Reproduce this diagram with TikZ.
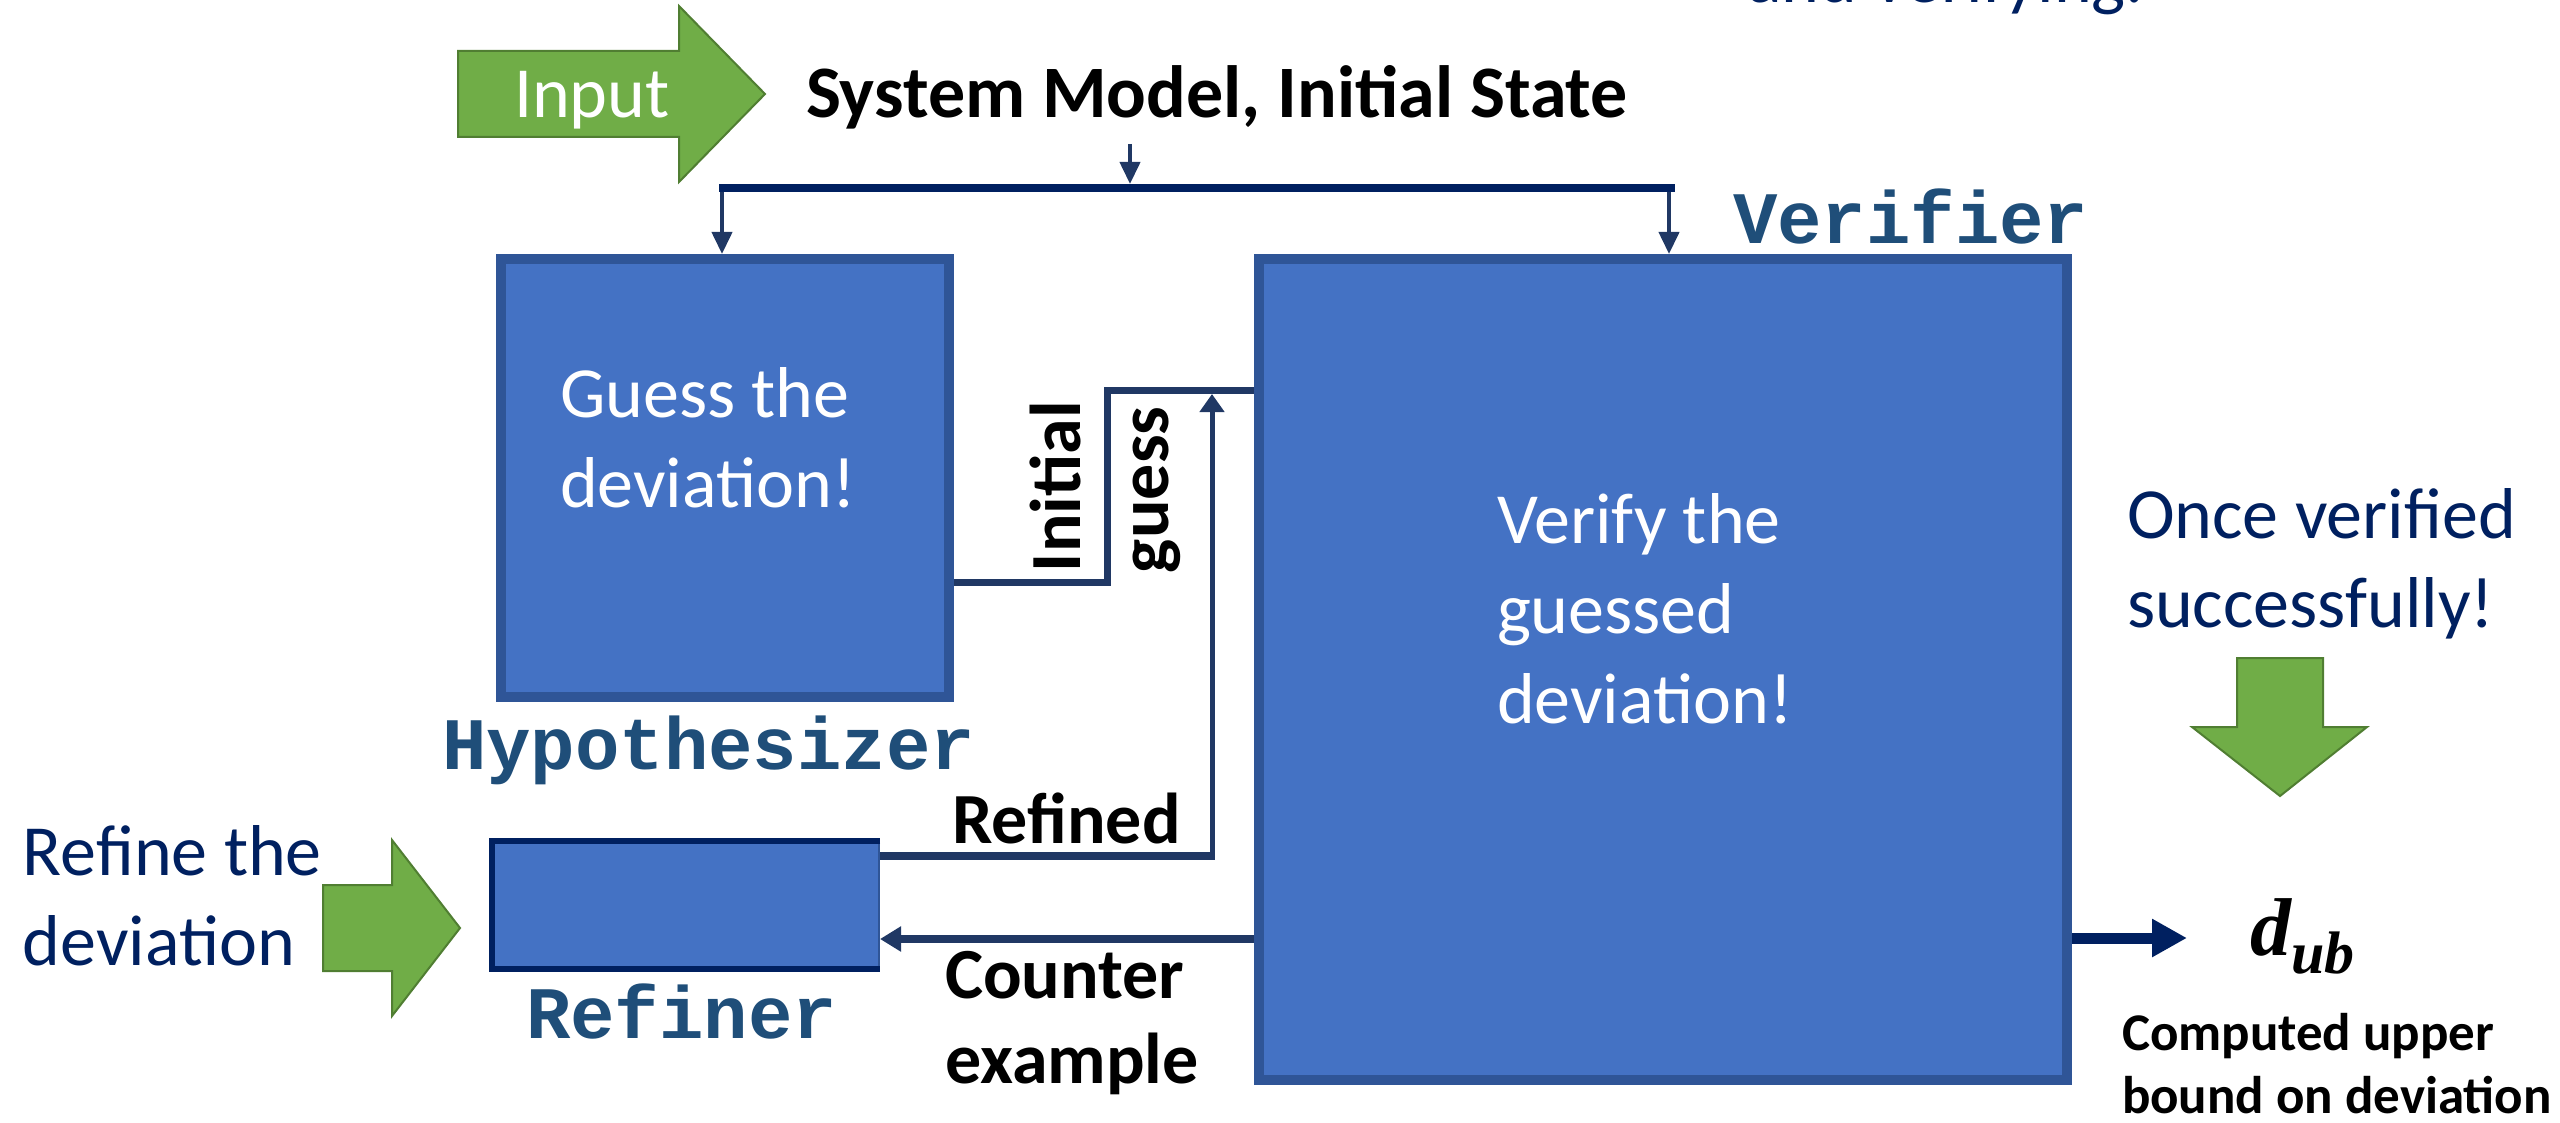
\documentclass[tikz,border=0pt]{standalone}
\usepackage{fontspec}
\setmainfont{Carlito}
\newfontfamily\labelmono{Liberation Mono}
\newfontfamily\symbserif{Liberation Serif}
\usetikzlibrary{arrows.meta,calc}

\definecolor{boxfill}{HTML}{4472C4}
\definecolor{boxedge}{HTML}{2F5597}
\definecolor{navy}{HTML}{002060}
\definecolor{wire}{HTML}{203864}
\definecolor{leaf}{HTML}{70AD47}
\definecolor{leafedge}{HTML}{507E32}
\definecolor{tagblue}{HTML}{1F4E79}

\newcommand\pxsize[1]{\fontsize{#1}{#1}\selectfont}

\tikzset{
  lbl/.style={inner sep=0pt, outer sep=0pt, anchor=base west},
  plain/.style={lbl, font={\pxsize{72}}},
  strong/.style={lbl, font={\pxsize{72}\bfseries}},
  small strong/.style={lbl, font={\pxsize{53}\bfseries}},
  tag/.style={lbl, font={\pxsize{74}\labelmono\bfseries}, text=tagblue},
  blockbox/.style={fill=boxfill, draw=boxedge, line width=10pt, anchor=north west, inner sep=0pt},
  blockarrow/.style={fill=leaf, draw=leafedge, line width=2pt, line join=miter},
  feed/.style={draw=wire, line width=4pt, -{Triangle[length=22pt, width=20pt]}},
  link/.style={draw=wire, line width=7pt},
}

\begin{document}
\begin{tikzpicture}[x=1pt, y=-1pt]
\useasboundingbox (0,0) rectangle (2560,1123);
\clip (0,0) rectangle (2560,1123);

% ---------- blocks ----------
\node[blockbox, minimum width=448pt, minimum height=438pt] (hyp) at (496,254) {};
\node[blockbox, minimum width=808pt, minimum height=821pt] (ver) at (1254,254) {};
\node[fill=boxfill, draw=boxedge, line width=2pt, anchor=north west, inner sep=0pt,
      minimum width=389pt, minimum height=132pt] (ref) at (489,838) {};
\draw[navy, line width=6pt]
  ($(ref.north east)+(0,3)$) -- ($(ref.north west)+(3,3)$) --
  ($(ref.south west)+(3,-3)$) -- ($(ref.south east)+(0,-3)$);

% ---------- block arrows ----------
\filldraw[blockarrow] (458,51) -- (679,51) -- (679,6) -- (765,94) -- (679,182)
  -- (679,137) -- (458,137) -- cycle;
\filldraw[blockarrow] (323,885) -- (392,885) -- (392,840) -- (460,928) -- (392,1016)
  -- (392,971) -- (323,971) -- cycle;
\filldraw[blockarrow] (2237,658) -- (2323,658) -- (2323,727) -- (2367,727)
  -- (2280,796) -- (2192,727) -- (2237,727) -- cycle;

% ---------- texts ----------
\node[plain, text=white] (inputtxt) at (514,118) {Input};
\node[lbl, font={\pxsize{74}\bfseries}] (sys) at (806,118) {System Model, Initial State};
\node[plain, text=navy] (topnote) at (1747,3) {and verifying.};

\node[tag] (vertag) at (1733,244) {Verifier};
\node[tag] (hyptag) at (442,769) {Hypothesizer};
\node[tag] (reftag) at (526,1038) {Refiner};

\node[plain, text=white] (guess1) at (560,417) {Guess the};
\node[plain, text=white] (guess2) at (560,507) {deviation!};

\node[plain, text=white] (verify1) at (1497,543) {Verify the};
\node[plain, text=white] (verify2) at (1497,633) {guessed};
\node[plain, text=white] (verify3) at (1497,723) {deviation!};

\node[plain, text=navy] (once1) at (2127,538) {Once verified};
\node[plain, text=navy] (once2) at (2127,627) {successfully!};

\node[plain, text=navy] (refine1) at (23,875) {Refine the};
\node[plain, text=navy] (refine2) at (23,965) {deviation};

\node[strong, rotate=90] (init1) at (1080,572) {Initial};
\node[strong, rotate=90] (init2) at (1168,573) {guess};

\node[strong] (refined) at (952,843) {Refined};
\node[strong] (counter1) at (945,998) {Counter};
\node[strong] (counter2) at (945,1083) {example};

\node[lbl] (dub) at (2250,955)
  {{\symbserif\bfseries\itshape\pxsize{82}d}\raisebox{-18pt}{\symbserif\bfseries\itshape\pxsize{60}ub}};
\node[small strong] (comp1) at (2122,1050) {Computed upper};
\node[small strong] (comp2) at (2122,1113) {bound on deviation};

% ---------- distribution bar ----------
\coordinate (tapTop) at (1130,144);
\coordinate (tap) at (1130,184);
\coordinate (barL) at (719,188);
\coordinate (barR) at (1675,188);
\coordinate (dropL) at (722,192);
\coordinate (dropR) at (1669,192);
\draw[feed] (tapTop) -- (tap);
\draw[navy, line width=8pt] (barL) -- (barR);
\draw[feed] (dropL) -- (dropL |- hyp.north);
\draw[feed] (dropR) -- (dropR |- ver.north);

% ---------- initial guess ----------
\coordinate (ig1) at (1107,582);
\coordinate (ig2) at (1107,390);
\draw[link, line join=miter] (hyp.east |- ig1) -- (ig1) -- (ig2) -- (ver.west |- ig2);

% ---------- refined guess ----------
\coordinate (rf1) at (1212,856);
\coordinate (rfTip) at (1212,394);
\draw[draw=wire, line width=8pt] (ref.east |- rf1) -- ([xshift=3pt]rf1);
\draw[draw=wire, line width=5pt, -{Triangle[length=18pt, width=24pt]}] (rf1) -- (rfTip);

% ---------- counter example ----------
\coordinate (ce) at (1260,939);
\draw[draw=wire, line width=8pt, -{Triangle[length=21pt, width=24pt]}]
  (ver.west |- ce) -- (ref.east |- ce);

% ---------- result ----------
\coordinate (outTip) at (2187,938);
\draw[draw=navy, line width=11pt, -{Triangle[length=35pt, width=36pt]}]
  (ver.east |- outTip) -- (outTip);
\end{tikzpicture}
\end{document}
